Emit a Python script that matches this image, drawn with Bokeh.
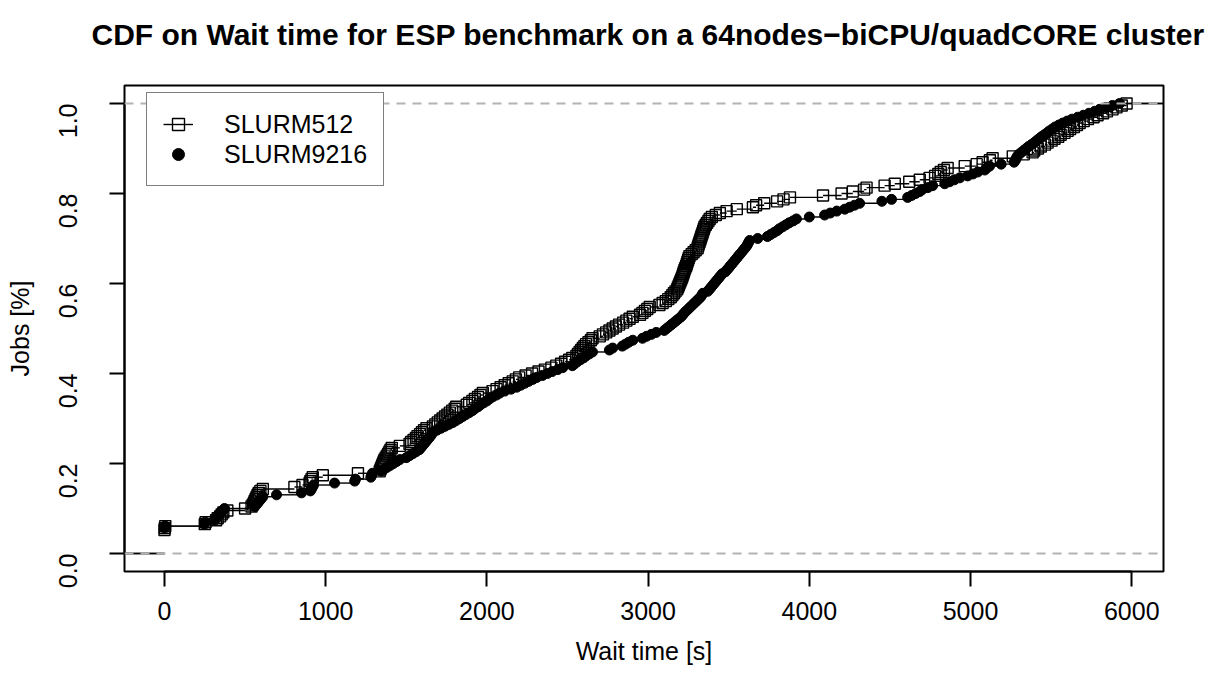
import math
import numpy as np
from bokeh.plotting import figure
from bokeh.models import (Range1d, FixedTicker, PrintfTickFormatter, Legend,
                          LegendItem, Span, Title)
from bokeh.embed import file_html
from bokeh.resources import INLINE

# ---------------- data (wait times in seconds, one per job) ----------------
series_names = ["SLURM512", "SLURM9216"]
title_text = "CDF on Wait time for ESP benchmark on a 64nodes\u2212biCPU/quadCORE cluster"

slurm512_wait = [
    0, 0, 0, 0, 0, 0, 0, 0, 0, 0, 0, 0, 2, 5,
    250, 255,
    320, 330, 345, 355, 365,
    390,
    500,
    540, 548, 555, 560, 566, 572, 578, 585, 595, 610,
    806, 856,
    900, 905, 912, 920,
    982,
    1200,
    1335, 1340, 1345, 1350, 1355, 1360, 1365, 1372, 1380, 1388, 1395, 1402, 1410,
    1460,
    1520, 1530, 1545, 1560, 1570, 1585, 1597, 1610, 1625,
    1665, 1680, 1695, 1710, 1725, 1740, 1755, 1770, 1785, 1800, 1810,
    1875, 1890, 1910, 1925, 1945, 1960, 1975,
    2035, 2060, 2085, 2110, 2135, 2160, 2180, 2200,
    2240, 2280, 2320, 2360, 2400, 2430, 2460, 2485, 2510, 2530,
    2555, 2565, 2575, 2585, 2595, 2605, 2615, 2630, 2645, 2655,
    2700, 2720, 2740, 2760, 2780, 2800, 2820, 2845, 2865, 2885, 2905,
    2950, 2965, 2980, 2995, 3010,
    3070, 3090, 3110, 3125, 3140,
    3150, 3160, 3170, 3180,
    3185, 3190, 3195, 3200, 3205, 3210, 3214, 3218, 3222, 3226, 3231, 3236,
    3240, 3244, 3248, 3252, 3257,
    3270, 3282, 3295, 3307,
    3310, 3314, 3318, 3322, 3326, 3330, 3334, 3338, 3342, 3346, 3350,
    3358, 3366, 3374, 3382, 3395, 3420, 3445,
    3487, 3550,
    3650, 3670,
    3720,
    3800, 3840, 3880,
    4085,
    4200,
    4270,
    4340, 4355,
    4467,
    4530,
    4620, 4685,
    4746, 4780, 4800, 4815, 4835, 4858,
    4964,
    5038, 5075,
    5120, 5137,
    5262, 5330, 5385,
    5395, 5418, 5436, 5462, 5478, 5503, 5521, 5544, 5559, 5583, 5602, 5618,
    5641, 5660, 5677,
    5702, 5728, 5763, 5788, 5822, 5846, 5881, 5905, 5938, 5968,
]

slurm9216_wait = [
    0, 0, 0, 0, 0, 0, 0, 0, 0, 0, 0, 0, 0, 3,
    248, 252,
    310, 320, 330, 340, 350, 360, 372,
    560, 570, 580, 590, 600, 610,
    695,
    850,
    905, 912, 918, 925,
    1055,
    1180, 1185,
    1280, 1285, 1290,
    1345, 1360, 1380, 1400, 1420, 1440, 1460,
    1500, 1520, 1540, 1560, 1580,
    1590, 1600, 1610, 1620, 1630, 1640, 1650, 1658, 1665,
    1690, 1715, 1740, 1765, 1790, 1810,
    1830, 1850, 1870, 1890, 1910, 1925, 1945, 1960, 1980, 2000, 2015, 2035,
    2060, 2080, 2110, 2150,
    2185, 2210, 2235, 2260, 2285, 2310,
    2345, 2375, 2405, 2440, 2470,
    2530, 2545, 2560, 2580, 2600, 2615, 2635, 2655,
    2760, 2780,
    2840, 2860, 2880, 2905,
    2965, 2990, 3020, 3050,
    3100, 3115, 3130, 3145, 3160, 3175, 3190, 3205, 3215,
    3225, 3237, 3250, 3262, 3275, 3287, 3300, 3312, 3325, 3333, 3340,
    3370, 3380, 3390, 3400, 3410, 3420, 3430, 3440, 3450, 3460,
    3480, 3490, 3500, 3510, 3520, 3530, 3540, 3550, 3560, 3570, 3580, 3590,
    3600, 3610, 3617, 3623, 3630,
    3680,
    3740, 3760, 3780, 3800, 3815,
    3835, 3855, 3875, 3900, 3920,
    4000,
    4095, 4130, 4170,
    4220, 4250, 4280, 4312,
    4450, 4510,
    4610, 4635, 4660, 4685,
    4700, 4735, 4765,
    4840, 4870, 4900, 4933,
    4982, 5015, 5045,
    5088, 5100, 5118,
    5190,
    5270, 5278, 5283, 5290,
    5300, 5315, 5330, 5345, 5360, 5378, 5395, 5410, 5425, 5440, 5458, 5475,
    5490, 5508, 5525, 5548, 5572,
    5600, 5630, 5665, 5700, 5735, 5770, 5800, 5840, 5880, 5925,
]

x_ticks = [0, 1000, 2000, 3000, 4000, 5000, 6000]
y_ticks = [0.0, 0.2, 0.4, 0.6, 0.8, 1.0]

FONT = "Liberation Sans"
X_LO, X_HI = -248, 6197
Y_LO, Y_HI = -0.04, 1.04


def ecdf(values):
    v = np.sort(np.asarray(values, dtype=float))
    xs, counts = np.unique(v, return_counts=True)
    ys = np.cumsum(counts) / len(v)
    return xs, ys


def step_segments(xs, ys):
    # R plot.ecdf style: horizontal pieces only, plus the two infinite tails
    x0 = np.concatenate([[X_LO - 1000], xs])
    x1 = np.concatenate([xs, [X_HI + 1000]])
    y = np.concatenate([[0.0], ys])
    return x0, x1, y


p = figure(width=1205, height=687,
           x_range=Range1d(X_LO, X_HI), y_range=Range1d(Y_LO, Y_HI),
           output_backend="svg", toolbar_location=None,
           min_border_left=124, min_border_right=42,
           min_border_top=85, min_border_bottom=116,
           title=None)

p.background_fill_color = "white"
p.border_fill_color = "white"
p.xgrid.visible = False
p.ygrid.visible = False
p.outline_line_color = "black"
p.outline_line_width = 2
p.outline_line_alpha = 1.0

# white spacer next to the frame (first = innermost), then the real title
p.add_layout(Title(text=".", text_font_size="10px", text_color="white",
                   standoff=14), "above")
p.add_layout(Title(text=title_text, text_font=FONT, text_font_size="30px",
                   text_font_style="bold", text_color="black", align="left",
                   offset=-33, standoff=22), "above")

# series 1: SLURM512
xs1, ys1 = ecdf(slurm512_wait)
a0, a1, ay = step_segments(xs1, ys1)
seg1 = p.segment(x0=a0, y0=ay, x1=a1, y1=ay, line_color="black", line_width=1.4)
sq1 = p.scatter(xs1, ys1, marker="square", size=11, fill_color=None,
                line_color="black", line_width=1.4)

# series 2: SLURM9216
xs2, ys2 = ecdf(slurm9216_wait)
b0, b1, by = step_segments(xs2, ys2)
seg2 = p.segment(x0=b0, y0=by, x1=b1, y1=by, line_color="black", line_width=1.4)
ci2 = p.scatter(xs2, ys2, marker="circle", size=10, fill_color="black",
                line_color="black", line_width=1)

for loc in (0.0, 1.0):
    p.add_layout(Span(location=loc, dimension="width", line_color="#B3B3B3",
                      line_dash="9 7", line_width=2))

# axes
for ax in (p.xaxis[0], p.yaxis[0]):
    ax.major_tick_out = 15
    ax.major_tick_in = 0
    ax.minor_tick_out = 0
    ax.minor_tick_in = 0
    ax.major_tick_line_width = 2
    ax.axis_line_width = 2
    ax.major_label_text_font = FONT
    ax.major_label_text_font_size = "25px"
    ax.major_label_text_color = "black"
    ax.axis_label_text_font = FONT
    ax.axis_label_text_font_size = "25px"
    ax.axis_label_text_font_style = "normal"
    ax.axis_label_text_color = "black"

p.xaxis.ticker = FixedTicker(ticks=x_ticks)
p.xaxis.bounds = (x_ticks[0], x_ticks[-1])
p.xaxis.axis_label = "Wait time [s]"
p.xaxis.major_label_standoff = 15
p.xaxis.axis_label_standoff = 14

p.yaxis.ticker = FixedTicker(ticks=y_ticks)
p.yaxis.bounds = (y_ticks[0], y_ticks[-1])
p.yaxis.formatter = PrintfTickFormatter(format="%.1f")
p.yaxis.major_label_orientation = math.pi / 2
p.yaxis.axis_label = "Jobs [%]"
p.yaxis.major_label_standoff = 42
p.yaxis.axis_label_standoff = 13

legend = Legend(items=[LegendItem(label=series_names[0], renderers=[seg1, sq1]),
                       LegendItem(label=series_names[1], renderers=[ci2])],
                location=(22, 385))
legend.label_text_font = FONT
legend.label_text_font_size = "25px"
legend.label_text_color = "black"
legend.border_line_color = "black"
legend.border_line_width = 1.5
legend.background_fill_color = "white"
legend.background_fill_alpha = 1.0
legend.padding = 16
legend.spacing = 0
legend.glyph_width = 30
legend.glyph_height = 30
legend.label_height = 30
legend.label_standoff = 31
legend.label_width = 140
legend.margin = 0
p.add_layout(legend, "center")

open("out.html", "w").write(file_html(p, INLINE))
